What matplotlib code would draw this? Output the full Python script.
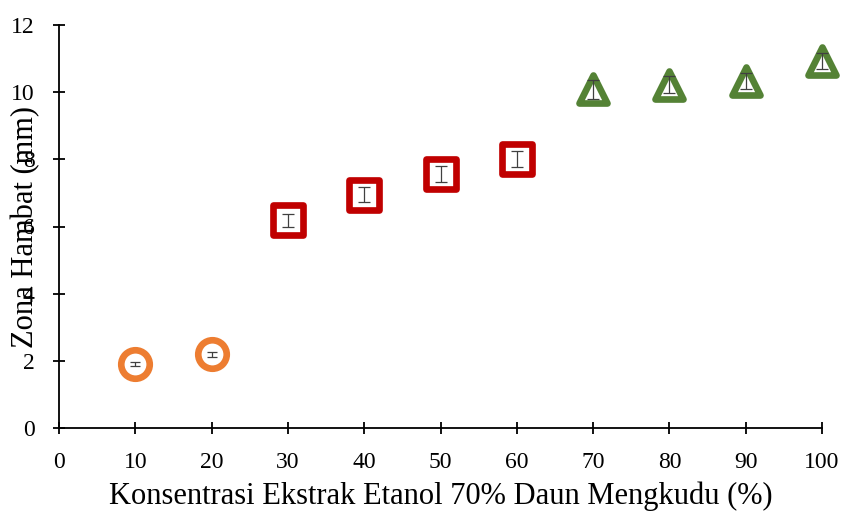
import matplotlib
matplotlib.use("Agg")
import matplotlib.pyplot as plt
from matplotlib.markers import MarkerStyle

plt.rcParams['font.family'] = ['Liberation Serif', 'DejaVu Serif']

# Data
x_low = [10, 20]
y_low = [1.91, 2.20]
e_low = [0.065, 0.075]

x_mid = [30, 40, 50, 60]
y_mid = [6.18, 6.95, 7.56, 8.01]
e_mid = [0.20, 0.22, 0.24, 0.23]

x_high = [70, 80, 90, 100]
y_high = [10.08, 10.22, 10.34, 10.93]
e_high = [0.27, 0.25, 0.24, 0.25]

xticks = list(range(0, 101, 10))
yticks = list(range(0, 13, 2))

fig = plt.figure(figsize=(8.44, 5.15), dpi=100)
ax = fig.add_axes([59/844, 1-428/515, (822-59)/844, (428-25)/515])

ax.plot(x_low, y_low, linestyle='none', marker='o', ms=20.5, mew=4.8,
        mec='#ED7D31', mfc='white', zorder=2, clip_on=False)
ax.plot(x_mid, y_mid, linestyle='none', marker=MarkerStyle('s', joinstyle='round'),
        ms=21, mew=4.8, mec='#C00000', mfc='white', zorder=2, clip_on=False)
ax.plot(x_high, y_high, linestyle='none', marker=MarkerStyle('^', joinstyle='round'),
        ms=20.5, mew=4.8, mec='#548235', mfc='white', zorder=2, clip_on=False)

for xs, ys, es, cap in [(x_low, y_low, e_low, 3.5), (x_mid, y_mid, e_mid, 4.5), (x_high, y_high, e_high, 4.5)]:
    eb = ax.errorbar(xs, ys, yerr=es, fmt='none', ecolor='#404040', elinewidth=0.9,
                     capsize=cap, capthick=0.9, zorder=3)
    for c in eb.lines[1]:
        c.set_clip_on(False)
    for c in eb.lines[2]:
        c.set_clip_on(False)

ax.set_xlim(0, 100)
ax.set_ylim(0, 12)
ax.set_xticks(xticks)
ax.set_yticks(yticks)
ax.spines['top'].set_visible(False)
ax.spines['right'].set_visible(False)
for s in ['left', 'bottom']:
    ax.spines[s].set_linewidth(1.3)
    ax.spines[s].set_color('black')
ax.tick_params(direction='inout', length=9, width=1.3, labelsize=17, colors='black')
ax.tick_params(axis='x', pad=13)
ax.tick_params(axis='y', pad=13)
ax.set_xlabel('Konsentrasi Ekstrak Etanol 70% Daun Mengkudu (%)', fontsize=22)
ax.set_ylabel('Zona Hambat (mm)', fontsize=22)
ax.yaxis.set_label_coords(-0.024, 0.5)
ax.xaxis.set_label_coords(0.5, -0.133)

fig.savefig('out.png', dpi=100)
